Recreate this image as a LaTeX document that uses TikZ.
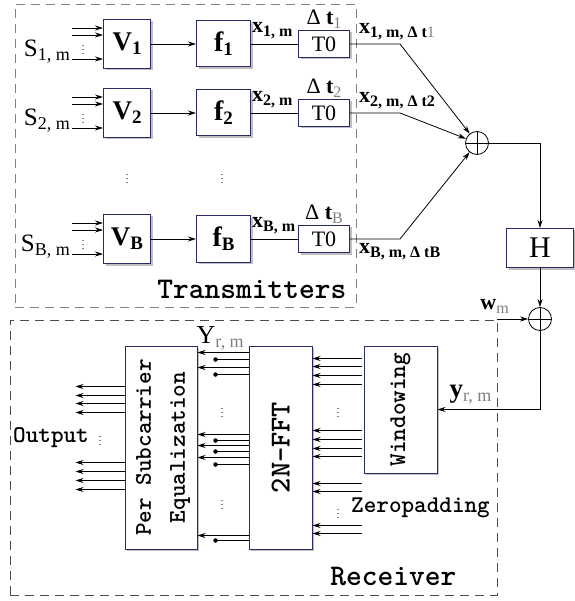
\documentclass[tikz,border=0pt]{standalone}
\usepackage{fontspec}
\setmainfont{Liberation Serif}
\usepackage{tikz}
\usetikzlibrary{positioning,arrows.meta,shadows}

\newcommand{\lo}[2][16]{\raisebox{-4pt}{\fontsize{#1}{#1}\selectfont #2}}
\newcommand{\gr}[1]{\textcolor{gray}{#1}}
\definecolor{boxblue}{RGB}{38,44,104}

\begin{document}
\begin{tikzpicture}[
    x=1pt, y=-1pt,
    every node/.style={font=\fontsize{22}{26}\selectfont},
    box/.style={draw=boxblue, fill=white, line width=1pt, inner sep=0pt,
      drop shadow={shadow xshift=2pt, shadow yshift=-2pt, fill=black!50, opacity=0.5}},
    vbox/.style={box, minimum width=47pt, minimum height=49pt, font=\fontsize{27}{30}\bfseries},
    fbox/.style={box, minimum width=54pt, minimum height=46pt, font=\fontsize{28}{30}\bfseries},
    tbox/.style={box, minimum width=51pt, minimum height=27pt},
    grp/.style={dash pattern=on 9pt off 6pt, line width=0.9pt, inner sep=0pt},
    arr/.style={-{Stealth[length=8pt,width=5pt]}, line width=0.8pt},
    ln/.style={line width=0.8pt},
    sum/.style={circle, draw, line width=0.8pt, minimum size=23pt, inner sep=0pt,
      path picture={\draw[line width=0.6pt] (path picture bounding box.north) -- (path picture bounding box.south)
        (path picture bounding box.west) -- (path picture bounding box.east);}},
    lbl/.style={inner sep=1pt},
    dd/.style={font=\fontsize{10}{10}\selectfont, inner sep=0pt},
    tt/.style={font=\fontsize{24}{34}\ttfamily\bfseries},
    dot/.style={circle, fill, inner sep=0pt, minimum size=4.5pt}
  ]
    \useasboundingbox (0,0) rectangle (574,601);

    % dashed groups
    \node[grp, draw=black!50, minimum width=341pt, minimum height=303pt] (tx) at (185.5,155.5) {};
    \node[grp, draw=black!70, minimum width=487pt, minimum height=275pt] (rx) at (253.5,457.5) {};
    \node[font=\fontsize{30}{36}\ttfamily\bfseries, anchor=base east, inner sep=0pt] (txlbl) at ([xshift=-10pt,yshift=9pt]tx.south east) {Transmitters};
    \node[font=\fontsize{30}{36}\ttfamily\bfseries, anchor=base east, inner sep=0pt] (rxlbl) at ([xshift=-41pt,yshift=10pt]rx.south east) {Receiver};

    % transmitter chains
    \node[vbox] (v1) at (127,44) {V\lo[19]{1}};
    \node[fbox, right=45pt of v1] (f1) {f\lo[19]{1}};
    \node[tbox, right=47pt of f1] (t1) {T0};

    \node[vbox] (v2) at (127,113) {V\lo[19]{2}};
    \node[fbox, right=45pt of v2] (f2) {f\lo[19]{2}};
    \node[tbox, right=47pt of f2] (t2) {T0};

    \node[vbox] (vB) at (127,239) {V\lo[19]{B}};
    \node[fbox, right=45pt of vB] (fB) {f\lo[19]{B}};
    \node[tbox, right=47pt of fB] (tB) {T0};

    \node[dd] (vd1) at (127,176) {$\vdots$};
    \node[dd] (vd2) at (222,176) {$\vdots$};

    \node[anchor=east, lbl, font=\fontsize{25}{28}\selectfont] (s1) at ([xshift=-32pt,yshift=-8pt]v1.west) {S\lo[18]{1, m}};
    \node[anchor=east, lbl, font=\fontsize{25}{28}\selectfont] (s2) at ([xshift=-32pt,yshift=-8pt]v2.west) {S\lo[18]{2, m}};
    \node[anchor=east, lbl, font=\fontsize{25}{28}\selectfont] (sB) at ([xshift=-32pt,yshift=-8pt]vB.west) {S\lo[18]{B, m}};

    \foreach \v in {v1,v2,vB} {
      \foreach \d in {16,9,-15}
        \draw[arr] ([xshift=-31pt,yshift=\d pt]\v.west) -- ([yshift=\d pt]\v.west);
      \node[dd] (dots\v) at ([xshift=-20pt,yshift=-3pt]\v.west) {$\vdots$};
    }

    \node[anchor=south west, lbl] (x1) at ([yshift=4pt]f1.east) {\textbf{x\lo{1, m}}};
    \node[anchor=south west, lbl] (x2) at ([yshift=4pt]f2.east) {\textbf{x\lo{2, m}}};
    \node[anchor=south west, lbl] (xB) at ([yshift=4pt]fB.east) {\textbf{x\lo{B, m}}};

    \node[anchor=south, lbl] (d1) at (t1.north) {Δ \textbf{t}\lo{\gr{1}}};
    \node[anchor=south, lbl] (d2) at (t2.north) {Δ \textbf{t}\lo{\gr{2}}};
    \node[anchor=south, lbl] (dB) at (tB.north) {Δ \textbf{t}\lo{\gr{B}}};

    \node[anchor=south west, lbl] (xd1) at ([xshift=8pt,yshift=3pt]t1.east) {\textbf{x\lo{1, m, Δ t\gr{\mdseries 1}}}};
    \node[anchor=south west, lbl] (xd2) at ([xshift=8pt,yshift=3pt]t2.east) {\textbf{x\lo{2, m, Δ t2}}};
    \node[anchor=north west, lbl] (xdB) at ([xshift=8pt,yshift=-3pt]tB.east) {\textbf{x\lo{B, m, Δ tB}}};

    \draw[arr] (v1) -- (f1);
    \draw[arr] (v2) -- (f2);
    \draw[arr] (vB) -- (fB);
    \draw[ln] (f1) -- (t1);
    \draw[ln] (f2) -- (t2);
    \draw[ln] (fB) -- (tB);

    % channel
    \node[sum] (sum1) at (477,143) {};
    \node[box, minimum width=67pt, minimum height=39pt, font=\fontsize{30}{36}\selectfont] (h) at (540,248) {H};
    \node[sum] (sum2) at (540,319) {};
    \coordinate (wIn) at (497,319);

    \draw[arr] (t1.east) -- ([xshift=50pt]t1.east) -- (sum1);
    \draw[arr] (t2.east) -- ([xshift=50pt]t2.east) -- (sum1);
    \draw[arr] (tB.east) -- ([xshift=50pt]tB.east) -- (sum1);
    \draw[arr] (sum1) -| (h);
    \draw[arr] (h) -- (sum2);
    \draw[arr] (wIn) -- (sum2);
    \node[anchor=south east, inner sep=0pt] (wlab) at ([xshift=12pt,yshift=5pt]wIn) {\textbf{w}\lo{\gr{m}}};

    % receiver
    \node[box, minimum width=72pt, minimum height=203pt, tt] (eq) at (161,447.5)
      {\rotatebox{90}{\begin{tabular}{@{}c@{}}Per Subcarrier\\Equalization\end{tabular}}};
    \node[box, minimum width=63pt, minimum height=203pt, right=51pt of eq, font=\fontsize{29}{34}\ttfamily\bfseries] (fft) {\rotatebox{90}{2N-FFT}};
    \node[box, minimum width=73pt, minimum height=127pt, tt, right=51pt of fft.north east, anchor=north west] (win) {\rotatebox{90}{Windowing}};

    \draw[arr] (sum2) |- (win);
    \node[anchor=south west, inner sep=0pt, font=\fontsize{27}{30}\selectfont] (ylab) at ([xshift=12pt,yshift=5pt]win.east) {\textbf{y}\lo[18]{\gr{r, m}}};
    \node[anchor=base west, inner sep=0pt, font=\fontsize{26}{30}\selectfont] (Ylab) at ([xshift=-1pt,yshift=2pt]eq.north east) {Y\lo[18]{\gr{r, m}}};

    \foreach \d in {13,21,30,39,85,94,103,111,138,146,180,188}
      \draw[arr] ([xshift=49pt,yshift=-\d pt]fft.north east) -- ([yshift=-\d pt]fft.north east);

    \foreach \d in {7,22,89,100,112,190}
      \draw[arr] ([yshift=-\d pt]fft.north west) -- ([yshift=-\d pt]eq.north east);
    \foreach \d in {14,29,95,106,119,195}
      \draw[ln] ([yshift=-\d pt]fft.north west) -- ([xshift=18pt,yshift=-\d pt]eq.north east) node[dot] {};

    \foreach \d in {41,50,58,67,117,126,135,144}
      \draw[arr] ([yshift=-\d pt]eq.north west) -- ++(-49pt,0);

    \node[dd] (rd1) at (222,410) {$\vdots$};
    \node[dd] (rd2) at (222,502) {$\vdots$};
    \node[dd] (rd3) at (338,410) {$\vdots$};
    \node[dd] (rd4) at (338,511) {$\vdots$};
    \node[dd] (rd5) at (100,438) {$\vdots$};

    \node[tt, anchor=east, inner sep=0pt] (outlbl) at (89,438) {Output};
    \node[tt, anchor=west, inner sep=0pt] (zp) at (351,508) {Zeropadding};
  \end{tikzpicture}
\end{document}
